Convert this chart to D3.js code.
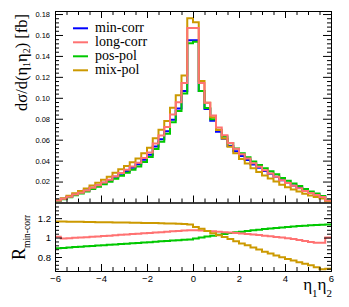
<!DOCTYPE html>
<html><head><meta charset="utf-8">
<script src="https://cdn.jsdelivr.net/npm/d3@7"></script>
<style>
html,body{margin:0;padding:0;background:#fff;}
svg{display:block;}
</style></head>
<body>
<svg id="chart" width="349" height="307"></svg>
<script>
// ---- data ----
const binLow = [-6,-5.75,-5.5,-5.25,-5,-4.75,-4.5,-4.25,-4,-3.75,-3.5,-3.25,-3,-2.75,-2.5,-2.25,-2,-1.75,-1.5,-1.25,-1,-0.75,-0.5,-0.25,
                0,0.25,0.5,0.75,1,1.25,1.5,1.75,2,2.25,2.5,2.75,3,3.25,3.5,3.75,4,4.25,4.5,4.75,5,5.25,5.5,5.75];
const binWidth = 0.25;
const seriesNames = ["min-corr","long-corr","pos-pol","mix-pol"];
const minCorr = [0.0019,0.0035,0.0055,0.0076,0.0094,0.0115,0.0140,0.0163,0.0188,0.0213,0.0245,0.0274,0.0302,0.0333,0.0365,0.0408,0.0455,0.0535,0.0605,0.0680,0.0790,0.0897,0.1065,0.1550,
                 0.1550,0.1065,0.0893,0.0780,0.0675,0.0608,0.0540,0.0490,0.0443,0.0405,0.0364,0.0332,0.0302,0.0274,0.0245,0.0213,0.0188,0.0163,0.0140,0.0115,0.0094,0.0076,0.0055,0.0019];
const longCorr = [0.00192,0.00347,0.00546,0.00758,0.00940,0.01155,0.01411,0.01650,0.01910,0.02173,0.02509,0.02817,0.03117,0.03450,0.03796,0.04260,0.04768,0.05628,0.06389,0.07208,0.08406,0.09580,0.11417,0.16678,
                  0.16678,0.11417,0.09537,0.08299,0.07155,0.06420,0.05681,0.05130,0.04616,0.04200,0.03756,0.03406,0.03080,0.02778,0.02467,0.02130,0.01867,0.01606,0.01365,0.01110,0.00898,0.00720,0.00521,0.00190];
const posPol = [0.00169,0.00313,0.00494,0.00686,0.00852,0.01047,0.01280,0.01496,0.01733,0.01972,0.02279,0.02556,0.02830,0.03134,0.03449,0.03872,0.04336,0.05120,0.05814,0.06562,0.07655,0.08728,0.10405,0.15206,
                0.15345,0.10650,0.09019,0.07956,0.06953,0.06311,0.05648,0.05165,0.04700,0.04325,0.03913,0.03589,0.03283,0.02995,0.02690,0.02349,0.02083,0.01814,0.01565,0.01290,0.01058,0.00859,0.00623,0.00216];
const mixPol = [0.00221,0.00408,0.00640,0.00884,0.01092,0.01335,0.01624,0.01889,0.02177,0.02464,0.02832,0.03165,0.03485,0.03839,0.04205,0.04696,0.05233,0.06147,0.06945,0.07793,0.09038,0.10244,0.12141,0.17593,
                0.17205,0.11609,0.09528,0.08151,0.06919,0.06110,0.05319,0.04714,0.04164,0.03726,0.03269,0.02908,0.02582,0.02288,0.01997,0.01698,0.01466,0.01244,0.01044,0.00840,0.00671,0.00527,0.00371,0.00129];
// ratios to min-corr (lower panel)
const ratioLong = [1.008,0.990,0.993,0.997,1.000,1.004,1.008,1.012,1.016,1.020,1.024,1.028,1.032,1.036,1.040,1.044,1.048,1.052,1.056,1.060,1.064,1.068,1.072,1.076,
                   1.076,1.072,1.068,1.064,1.060,1.056,1.052,1.047,1.042,1.037,1.032,1.026,1.020,1.014,1.007,1.000,0.993,0.985,0.975,0.965,0.955,0.948,0.947,1.000];
const ratioPos = [0.890,0.894,0.898,0.902,0.906,0.910,0.914,0.918,0.922,0.926,0.930,0.933,0.937,0.941,0.945,0.949,0.953,0.957,0.961,0.965,0.969,0.973,0.977,0.981,
                  0.990,1.000,1.010,1.020,1.030,1.038,1.046,1.054,1.061,1.068,1.075,1.081,1.087,1.093,1.098,1.103,1.108,1.113,1.118,1.122,1.126,1.130,1.133,1.135];
const ratioMix = [1.165,1.165,1.164,1.163,1.162,1.161,1.160,1.159,1.158,1.157,1.156,1.155,1.154,1.153,1.152,1.151,1.150,1.149,1.148,1.146,1.144,1.142,1.140,1.135,
                  1.110,1.090,1.067,1.045,1.025,1.005,0.985,0.962,0.940,0.920,0.898,0.876,0.855,0.835,0.815,0.797,0.780,0.763,0.746,0.730,0.714,0.694,0.674,0.680];
const xTicks = [-6,-4,-2,0,2,4,6];
const yTopTicks = [0.02,0.04,0.06,0.08,0.10,0.12,0.14,0.16,0.18];
const yBotTicks = [0.8,1,1.2];
const colors = {"min-corr":"#0000ff","long-corr":"#ff7272","pos-pol":"#00c800","mix-pol":"#cc9900"};

// ---- layout ----
const svg = d3.select("#chart");
svg.append("rect").attr("width",349).attr("height",307).attr("fill","#fff");
const L = 55, R = 331, T = 11, MID = 202.5, B = 271;
const x = d3.scaleLinear().domain([-6,6]).range([L,R]);
const yTop = d3.scaleLinear().domain([0,0.1829]).range([MID,T]);
const yBot = d3.scaleLinear().domain([0.656,1.361]).range([B,MID]);

const sansFont = "'Liberation Sans', Arial, sans-serif";
const serifFont = "'Liberation Serif', 'DejaVu Serif', serif";

function minorVals(lo, hi, step, majors){
  const out=[];
  for(let v=lo; v<=hi+1e-9; v+=step){
    const r=Math.round(v*10000)/10000;
    if(!majors.some(m=>Math.abs(m-r)<1e-6)) out.push(r);
  }
  return out;
}
function styleAxis(g, fontSize){
  g.selectAll("path.domain").attr("stroke","#000").attr("stroke-width",1);
  g.selectAll(".tick line").attr("stroke","#000").attr("stroke-width",1);
  g.selectAll(".tick text").attr("font-family",sansFont).attr("font-size",fontSize).attr("fill","#000");
}
function hist(vals, yScale){
  const pts = vals.map((v,i)=>[binLow[i], v]);
  pts.push([binLow[binLow.length-1]+binWidth, vals[vals.length-1]]);
  return d3.line().x(d=>x(d[0])).y(d=>yScale(d[1])).curve(d3.curveStepAfter)(pts);
}

// ---- top panel histograms ----
const gTop = svg.append("g");
const topSeries = [["min-corr",minCorr],["pos-pol",posPol],["mix-pol",mixPol],["long-corr",longCorr]];
topSeries.forEach(([name,vals])=>{
  gTop.append("path").attr("d",hist(vals,yTop)).attr("fill","none")
    .attr("stroke",colors[name]).attr("stroke-width",2).attr("stroke-linejoin","miter");
});

// ---- bottom panel ratios ----
const gBot = svg.append("g");
[["pos-pol",ratioPos],["long-corr",ratioLong],["mix-pol",ratioMix]].forEach(([name,vals])=>{
  gBot.append("path").attr("d",hist(vals,yBot)).attr("fill","none")
    .attr("stroke",colors[name]).attr("stroke-width",2);
});

// ---- axes: top panel ----
const xMinor = minorVals(-6,6,0.5,xTicks);
const yTopMinor = minorVals(0.004,0.18,0.004,yTopTicks);
let g = svg.append("g").attr("transform",`translate(${L},0)`)
  .call(d3.axisLeft(yTop).tickValues(yTopTicks).tickSizeInner(-8).tickSizeOuter(0).tickPadding(5).tickFormat(d3.format(".2f")));
styleAxis(g,"7.5px");
g = svg.append("g").attr("transform",`translate(${L},0)`)
  .call(d3.axisLeft(yTop).tickValues(yTopMinor).tickSizeInner(-4).tickSizeOuter(0).tickFormat(""));
styleAxis(g,"7px");
g = svg.append("g").attr("transform",`translate(${R},0)`)
  .call(d3.axisRight(yTop).tickValues(yTopTicks).tickSizeInner(-8).tickSizeOuter(0).tickFormat(""));
styleAxis(g,"7px");
g = svg.append("g").attr("transform",`translate(${R},0)`)
  .call(d3.axisRight(yTop).tickValues(yTopMinor).tickSizeInner(-4).tickSizeOuter(0).tickFormat(""));
styleAxis(g,"7px");
g = svg.append("g").attr("transform",`translate(0,${T})`)
  .call(d3.axisTop(x).tickValues(xTicks).tickSizeInner(-7).tickSizeOuter(0).tickFormat(""));
styleAxis(g,"7px");
g = svg.append("g").attr("transform",`translate(0,${T})`)
  .call(d3.axisTop(x).tickValues(xMinor).tickSizeInner(-4).tickSizeOuter(0).tickFormat(""));
styleAxis(g,"7px");
g = svg.append("g").attr("transform",`translate(0,${MID})`)
  .call(d3.axisBottom(x).tickValues(xTicks).tickSizeInner(-7).tickSizeOuter(0).tickFormat(""));
styleAxis(g,"7px");
g = svg.append("g").attr("transform",`translate(0,${MID})`)
  .call(d3.axisBottom(x).tickValues(xMinor).tickSizeInner(-4).tickSizeOuter(0).tickFormat(""));
styleAxis(g,"7px");

// ---- axes: bottom panel ----
const yBotMinor = minorVals(0.68,1.32,0.04,yBotTicks);
g = svg.append("g").attr("transform",`translate(${L},0)`)
  .call(d3.axisLeft(yBot).tickValues(yBotTicks).tickSizeInner(-7).tickSizeOuter(0).tickPadding(4).tickFormat(d=>String(d)));
styleAxis(g,"9.5px");
g = svg.append("g").attr("transform",`translate(${L},0)`)
  .call(d3.axisLeft(yBot).tickValues(yBotMinor).tickSizeInner(-4).tickSizeOuter(0).tickFormat(""));
styleAxis(g,"7px");
g = svg.append("g").attr("transform",`translate(${R},0)`)
  .call(d3.axisRight(yBot).tickValues(yBotTicks).tickSizeInner(-7).tickSizeOuter(0).tickFormat(""));
styleAxis(g,"7px");
g = svg.append("g").attr("transform",`translate(${R},0)`)
  .call(d3.axisRight(yBot).tickValues(yBotMinor).tickSizeInner(-4).tickSizeOuter(0).tickFormat(""));
styleAxis(g,"7px");
g = svg.append("g").attr("transform",`translate(0,${B})`)
  .call(d3.axisBottom(x).tickValues(xTicks).tickSizeInner(-7).tickSizeOuter(0).tickPadding(4).tickFormat(d=>String(d)));
styleAxis(g,"9.5px");
g.selectAll(".tick text").text(d=> d<0 ? "\u2212"+Math.abs(d) : String(d));
g = svg.append("g").attr("transform",`translate(0,${B})`)
  .call(d3.axisBottom(x).tickValues(xMinor).tickSizeInner(-4).tickSizeOuter(0).tickFormat(""));
styleAxis(g,"7px");

// ---- legend ----
const legend = svg.append("g");
seriesNames.forEach((name,i)=>{
  const ly = 28.3 + i*14;
  legend.append("line").attr("x1",73).attr("x2",88).attr("y1",ly).attr("y2",ly)
    .attr("stroke",colors[name]).attr("stroke-width",2);
  legend.append("text").attr("x",95).attr("y",ly+4).text(name)
    .attr("font-family",serifFont).attr("font-size","14px").attr("fill","#000");
});

// ---- titles ----
const yt = svg.append("text").attr("transform","translate(27,111) rotate(-90)")
  .attr("font-family",serifFont).attr("font-size","16.5px").attr("fill","#000");
yt.append("tspan").text("d\u03c3/d(\u03b7");
yt.append("tspan").text("1").attr("font-size","10px").attr("dy",3);
yt.append("tspan").text("\u03b7").attr("dy",-3);
yt.append("tspan").text("2").attr("font-size","10px").attr("dy",3);
yt.append("tspan").text(") [fb]").attr("dy",-3);

const rt = svg.append("text").attr("transform","translate(25,260) rotate(-90)")
  .attr("font-family",serifFont).attr("font-size","18px").attr("fill","#000");
rt.append("tspan").text("R");
rt.append("tspan").text("min-corr").attr("font-size","9.5px").attr("dy",5);

const xt = svg.append("text").attr("x",332).attr("y",290).attr("text-anchor","end")
  .attr("font-family",serifFont).attr("font-size","17px").attr("fill","#000");
xt.append("tspan").text("\u03b7");
xt.append("tspan").text("1").attr("font-size","11px").attr("dy",7);
xt.append("tspan").text("\u03b7").attr("dy",-7);
xt.append("tspan").text("2").attr("font-size","11px").attr("dy",7);
</script>
</body></html>
